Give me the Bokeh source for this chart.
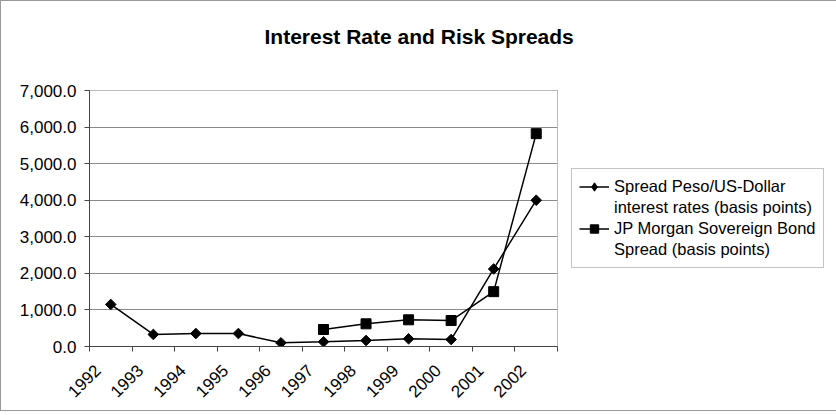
import math
from bokeh.plotting import figure
from bokeh.models import (Range1d, FixedTicker, NumeralTickFormatter, Legend,
                          LegendItem, Title)
from bokeh.embed import file_html
from bokeh.resources import INLINE

# ---- data ----
years = ["1992", "1993", "1994", "1995", "1996", "1997", "1998", "1999",
         "2000", "2001", "2002"]
peso_spread = [1150, 330, 355, 355, 100, 130, 165, 210, 190, 2120, 4000]
jpm_years = ["1997", "1998", "1999", "2000", "2001", "2002"]
jpm_spread = [465, 620, 730, 710, 1500, 5820]
y_ticks = [0, 1000, 2000, 3000, 4000, 5000, 6000, 7000]
title_text = "Interest Rate and Risk Spreads"
peso_label = ["Spread Peso/US-Dollar", "interest rates (basis points)"]
jpm_label = ["JP Morgan Sovereign Bond", "Spread (basis points)"]

FONT = "Liberation Sans"
BL, BR, BT, BB = 88, 276, 89, 64
FW, FH = 468, 256
NAN = float("nan")
LABEL_SHIFT = 0.31  # rotated year labels sit a little left of the category centre

idx = {y: i for i, y in enumerate(years)}
peso_x = [idx[y] + 0.5 for y in years]
jpm_x = [idx[y] + 0.5 for y in jpm_years]

p = figure(frame_width=FW, frame_height=FH, output_backend="svg",
           toolbar_location=None,
           x_range=Range1d(0, len(years)), y_range=Range1d(0, 7000),
           min_border_left=BL, min_border_right=BR, min_border_top=BT,
           min_border_bottom=BB)
p.background_fill_color = "white"
p.border_fill_color = "white"
p.outline_line_color = "#777777"
p.outline_line_dash = "1 1"
p.styles = {"border": "1px solid #999999"}

# grid
p.xgrid.grid_line_color = None
p.ygrid.ticker = FixedTicker(ticks=y_ticks)
p.ygrid.grid_line_color = "#8a8a8a"
p.ygrid.grid_line_width = 1

# y axis
ya = p.yaxis[0]
ya.ticker = FixedTicker(ticks=y_ticks)
ya.formatter = NumeralTickFormatter(format="0,0.0")
ya.major_tick_out = 5
ya.major_tick_in = 0
ya.minor_tick_out = 0
ya.minor_tick_in = 0
ya.axis_line_color = "#444444"
ya.major_tick_line_color = "#444444"
ya.major_label_text_font = FONT
ya.major_label_text_font_size = "17px"
ya.major_label_text_color = "black"
ya.major_label_standoff = 8

# x axis
xa = p.xaxis[0]
label_pos = [i + 0.5 - LABEL_SHIFT for i in range(len(years))]
bounds = [i for i in range(len(years) + 1)]
xa.ticker = FixedTicker(ticks=label_pos, minor_ticks=bounds)
xa.major_label_overrides = {c: y for c, y in zip(label_pos, years)}
xa.major_tick_out = 0
xa.major_tick_in = 0
xa.minor_tick_out = 5
xa.minor_tick_in = 0
xa.minor_tick_line_color = "#444444"
xa.axis_line_color = "#444444"
xa.major_label_orientation = math.pi / 4
xa.major_label_text_font = FONT
xa.major_label_text_font_size = "17px"
xa.major_label_text_color = "black"
xa.major_label_standoff = 16

# series
l1 = p.line(peso_x, peso_spread, line_color="black", line_width=1.5)
m1 = p.scatter(peso_x, peso_spread, marker="square", size=7.5,
               angle=math.pi / 4, fill_color="black", line_color="black")
l2 = p.line(jpm_x, jpm_spread, line_color="black", line_width=1.5)
m2 = p.scatter(jpm_x, jpm_spread, marker="square", size=10,
               fill_color="black", line_color="black")
# legend glyph stand-ins (nothing drawn in the plot)
lg1 = p.scatter(x=[NAN], y=[NAN], marker="diamond", size=11,
                fill_color="black", line_color="black")
lg2 = p.scatter(x=[NAN], y=[NAN], marker="square", size=7,
                fill_color="black", line_color="black")
blank = p.scatter(x=[NAN], y=[NAN], alpha=0)

legend = Legend(items=[
    LegendItem(label=peso_label[0], renderers=[l1, lg1]),
    LegendItem(label=peso_label[1], renderers=[blank]),
    LegendItem(label=jpm_label[0], renderers=[l2, lg2]),
    LegendItem(label=jpm_label[1], renderers=[blank]),
], location=(14, 78))
legend.label_text_font = FONT
legend.label_text_font_size = "16.5px"
legend.label_text_color = "black"
legend.glyph_width = 30
legend.glyph_height = 21
legend.label_height = 21
legend.label_standoff = 5
legend.spacing = 0
legend.padding = 7
legend.margin = 0
legend.border_line_color = "#888888"
legend.border_line_width = 1
legend.background_fill_color = "white"
p.add_layout(legend, "right")

# spacer between frame and title (stacks next to the frame), then the title
spacer = Title(text=" ", text_font_size="1px", standoff=38)
p.add_layout(spacer, "above")
title = Title(text=title_text, align="left", offset=175, vertical_align="top",
              text_font=FONT, text_font_style="bold", text_font_size="21px",
              text_color="black", standoff=0)
p.add_layout(title, "above")

open("out.html", "w").write(file_html(p, INLINE))
